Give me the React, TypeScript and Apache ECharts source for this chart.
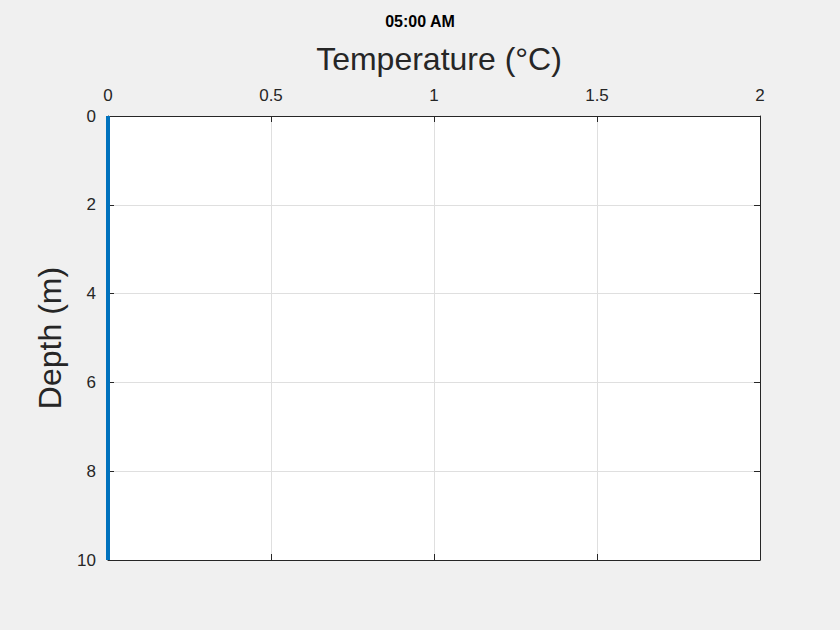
import { useEffect, useRef } from 'react';
import * as echarts from 'echarts';

const depths = [0, 10];
const temps = [0, 0];
const xTicks = [0, 0.5, 1, 1.5, 2];
const yTicks = [0, 2, 4, 6, 8, 10];

export default function App() {
  const ref = useRef<HTMLDivElement>(null);

  useEffect(() => {
    if (!ref.current) return;
    const chart = echarts.init(ref.current, undefined, { renderer: 'svg' });
    const font = 'Helvetica, Arial, "Liberation Sans", sans-serif';
    const line = { show: true, onZero: false, lineStyle: { color: '#262626', width: 1 } };
    const tick = { show: true, inside: true, length: 6, lineStyle: { color: '#262626' } };
    chart.setOption({
      animation: false,
      backgroundColor: '#f0f0f0',
      textStyle: { fontFamily: font },
      title: [
        { text: '05:00 AM', left: 'center', top: 8, textStyle: { fontSize: 16, fontWeight: 'bold', color: '#000', fontFamily: font } },
        { text: 'Temperature (°C)', left: 434, textAlign: 'center', top: 38, textStyle: { fontSize: 32, fontWeight: 'normal', color: '#262626', fontFamily: font } },
      ],
      grid: { left: 108, right: 80, top: 116, bottom: 70, show: true, backgroundColor: '#fff', borderWidth: 0 },
      xAxis: [
        {
          type: 'value', position: 'top', min: 0, max: 2, interval: 0.5,
          axisLine: line, axisTick: tick,
          axisLabel: { color: '#262626', fontSize: 17, margin: 12, formatter: (v: number) => (xTicks.includes(v) ? String(v) : '') },
          splitLine: { show: true, lineStyle: { color: '#dfdfdf' } },
        },
        {
          type: 'value', position: 'bottom', min: 0, max: 2, interval: 0.5,
          axisLine: line, axisTick: tick, splitLine: { show: false },
          axisLabel: { show: false },
        },
      ],
      yAxis: [
        {
          type: 'value', inverse: true, min: 0, max: 10, interval: 2,
          axisLine: line, axisTick: tick,
          name: 'Depth (m)', nameLocation: 'middle', nameGap: 40,
          nameTextStyle: { fontSize: 32, color: '#262626', fontFamily: font },
          axisLabel: { color: '#262626', fontSize: 17, margin: 12, formatter: (v: number) => (yTicks.includes(v) ? String(v) : '') },
          splitLine: { show: true, lineStyle: { color: '#dfdfdf' } },
        },
        {
          type: 'value', inverse: true, position: 'right', min: 0, max: 10, interval: 2,
          axisLine: line, axisTick: tick, splitLine: { show: false },
          axisLabel: { show: false },
        },
      ],
      series: [
        {
          type: 'line',
          data: depths.map((d, i) => [temps[i], d]),
          symbol: 'none',
          lineStyle: { color: '#0072BD', width: 4 },
          clip: false,
          z: 5,
        },
      ],
    });
    return () => chart.dispose();
  }, []);

  return <div ref={ref} style={{ position: 'absolute', left: 0, top: 0, width: 840, height: 630 }} />;
}
